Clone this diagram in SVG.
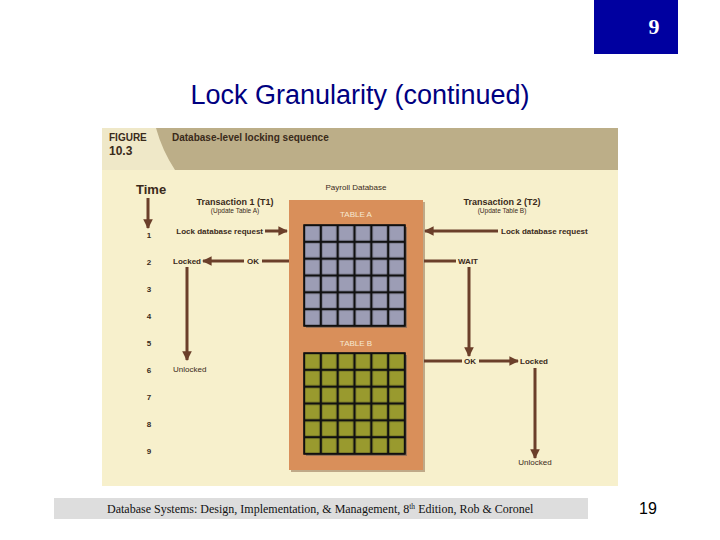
<svg xmlns="http://www.w3.org/2000/svg" width="720" height="540" viewBox="0 0 720 540">
<defs>
<style>
.t{font-family:"Liberation Sans",Arial,sans-serif;fill:#3a2a1a}
.s{font-size:8px}.b{font-weight:bold}
.ln{stroke:#6B3F2A;stroke-width:3;fill:none}
.ga{fill:#9C9DB5;stroke:#111;stroke-width:1.2}
.gb{fill:#999A2E;stroke:#111;stroke-width:1.2}
</style>
<marker id="ah" viewBox="0 0 10 10" refX="9" refY="5" markerWidth="3.2" markerHeight="3.2" orient="auto"><path d="M0,0L10,5L0,10z" fill="#6B3F2A"/></marker>
<pattern id="cellA" x="304" y="225" width="16.833" height="16.833" patternUnits="userSpaceOnUse"><rect width="16.833" height="16.833" fill="none" stroke="#111" stroke-width="2.4"/></pattern>
<pattern id="cellB" x="304" y="353" width="16.833" height="16.833" patternUnits="userSpaceOnUse"><rect width="16.833" height="16.833" fill="none" stroke="#111" stroke-width="2.4"/></pattern>
</defs>
<rect width="720" height="540" fill="#fff"/>
<g id="slidenum"><rect x="594" y="0" width="84" height="54" fill="#0000A0"/><text x="654" y="34" font-family="Liberation Serif,serif" font-size="22" font-weight="bold" fill="#fff" text-anchor="middle">9</text></g>
<text x="360" y="104" font-family="Liberation Sans,Arial,sans-serif" font-size="27" fill="#000080" text-anchor="middle">Lock Granularity (continued)</text>
<g id="figure">
<rect x="102" y="128" width="516" height="358" fill="#F7F0CC"/>
<rect x="102" y="128" width="516" height="42" fill="#BCAE88"/>
<path d="M102,128H156Q162,150 175,170H102z" fill="#EFE8C8"/>
<text x="109" y="141" class="t b" font-size="10">FIGURE</text>
<text x="109" y="155" class="t b" font-size="12">10.3</text>
<text x="172" y="141" class="t b" font-size="10">Database-level locking sequence</text>
<text x="136" y="194" class="t b" font-size="13">Time</text>
<text x="356" y="190" class="t s" text-anchor="middle">Payroll Database</text>
<text x="235" y="205" class="t b" font-size="9" text-anchor="middle">Transaction 1 (T1)</text>
<text x="235" y="213" class="t" font-size="6.5" text-anchor="middle">(Update Table A)</text>
<text x="502" y="205" class="t b" font-size="9" text-anchor="middle">Transaction 2 (T2)</text>
<text x="502" y="213" class="t" font-size="6.5" text-anchor="middle">(Update Table B)</text>
<g class="t s b" text-anchor="middle" font-size="7.5">
<text x="149" y="238">1</text><text x="149" y="265">2</text><text x="149" y="292">3</text><text x="149" y="319">4</text><text x="149" y="346">5</text><text x="149" y="373">6</text><text x="149" y="400">7</text><text x="149" y="427">8</text><text x="149" y="454">9</text>
</g>
</g>
<g id="database">
<rect x="291" y="202" width="134" height="270" fill="#9a7a5a" opacity="0.6"/>
<rect x="289" y="200" width="134" height="270" fill="#D98F5A"/>
<text x="356" y="217" font-family="Liberation Sans,Arial,sans-serif" font-size="8" fill="#F7E8D0" text-anchor="middle">TABLE A</text>
<rect x="306" y="227" width="101" height="101" fill="#555" opacity="0.5"/>
<rect x="304" y="225" width="101" height="101" class="ga"/>
<rect x="304" y="225" width="101" height="101" fill="url(#cellA)" stroke="#111" stroke-width="1.2"/>
<text x="356" y="346" font-family="Liberation Sans,Arial,sans-serif" font-size="8" fill="#F7E8D0" text-anchor="middle">TABLE B</text>
<rect x="306" y="355" width="101" height="101" fill="#555" opacity="0.5"/>
<rect x="304" y="353" width="101" height="101" class="gb"/>
<rect x="304" y="353" width="101" height="101" fill="url(#cellB)" stroke="#111" stroke-width="1.2"/>
</g>
<g id="connectors">
<line x1="148" y1="198" x2="148" y2="228" class="ln" marker-end="url(#ah)"/>
<line x1="265" y1="231" x2="287" y2="231" class="ln" marker-end="url(#ah)"/>
<line x1="289" y1="261" x2="262" y2="261" class="ln"/>
<line x1="244" y1="261" x2="203" y2="261" class="ln" marker-end="url(#ah)"/>
<line x1="187" y1="267" x2="187" y2="360" class="ln" marker-end="url(#ah)"/>
<line x1="498" y1="231" x2="425" y2="231" class="ln" marker-end="url(#ah)"/>
<line x1="424" y1="261" x2="456" y2="261" class="ln"/>
<line x1="469" y1="267" x2="469" y2="356" class="ln" marker-end="url(#ah)"/>
<line x1="424" y1="361" x2="462" y2="361" class="ln"/>
<line x1="479" y1="361" x2="518" y2="361" class="ln" marker-end="url(#ah)"/>
<line x1="535" y1="368" x2="535" y2="458" class="ln" marker-end="url(#ah)"/>
</g>
<g id="labels" class="t s b">
<text x="263" y="234" text-anchor="end">Lock database request</text>
<text x="501" y="234">Lock database request</text>
<text x="173" y="264">Locked</text>
<text x="253" y="264" text-anchor="middle">OK</text>
<text x="458" y="264">WAIT</text>
<text x="173" y="372" font-weight="normal">Unlocked</text>
<text x="470" y="364" text-anchor="middle">OK</text>
<text x="520" y="364">Locked</text>
<text x="535" y="465" text-anchor="middle" font-weight="normal">Unlocked</text>
</g>
<g id="footer">
<rect x="54" y="498" width="534" height="21" fill="#DDDDDD"/>
<text x="107" y="513" font-family="Liberation Serif,serif" font-size="12" fill="#111">Database Systems: Design, Implementation, &amp; Management, 8<tspan font-size="7.5" dy="-4">th</tspan><tspan dy="4"> Edition, Rob &amp; Coronel</tspan></text>
<text x="648" y="514" font-family="Liberation Sans,Arial,sans-serif" font-size="16" fill="#000" text-anchor="middle">19</text>
</g>
</svg>
